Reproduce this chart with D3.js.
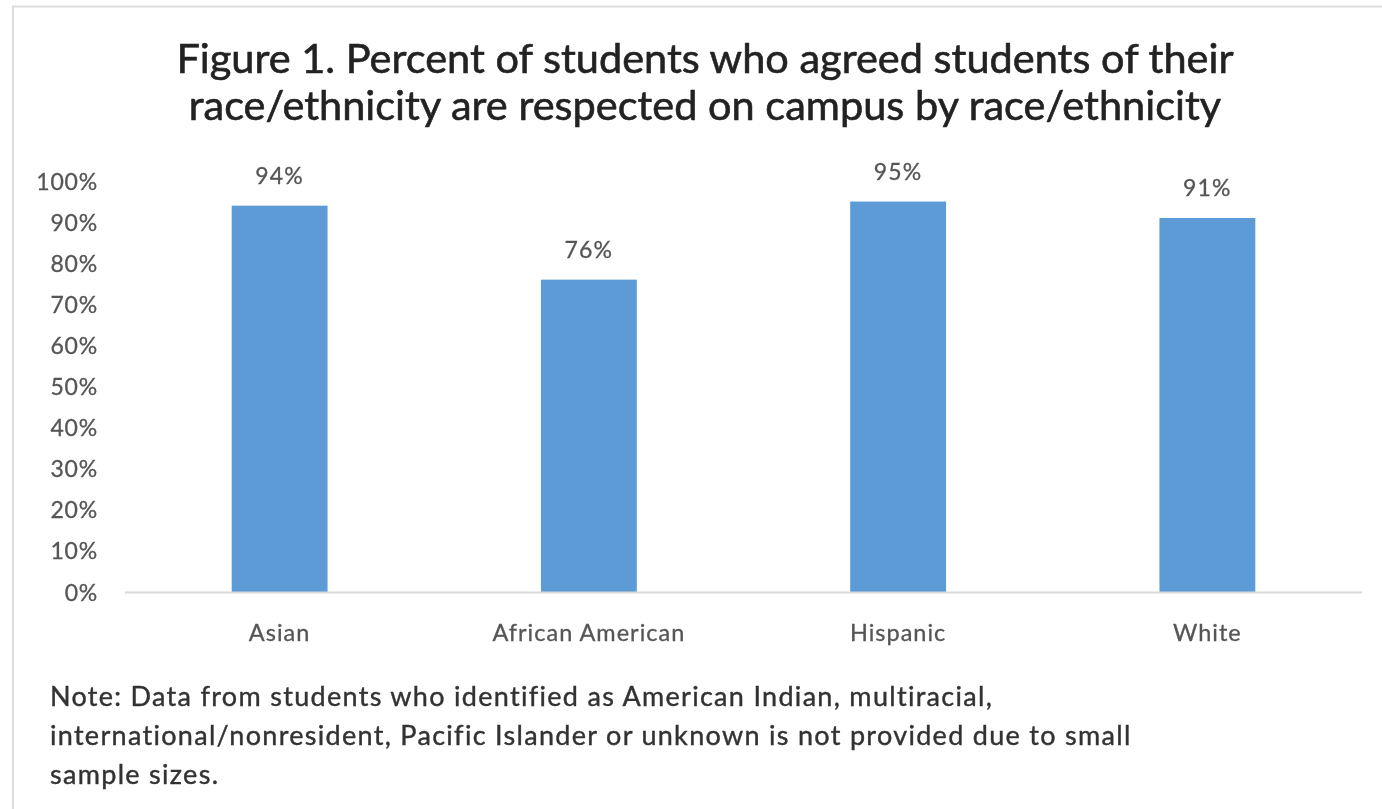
<!DOCTYPE html>
<html>
<head>
<meta charset="utf-8">
<script src="https://cdn.jsdelivr.net/npm/d3@7"></script>
<style>
  html, body { margin: 0; padding: 0; background: #fff; }
  svg { display: block; }
  text { font-family: Lato, "Open Sans", sans-serif; }
</style>
</head>
<body>
<svg id="chart" width="1382" height="809"></svg>
<script>
// Share of students who agreed students of their race/ethnicity are respected on campus
const categories = ["Asian", "African American", "Hispanic", "White"];
const agreedShare = [0.94, 0.76, 0.95, 0.91];
const tickValues = [0, 0.1, 0.2, 0.3, 0.4, 0.5, 0.6, 0.7, 0.8, 0.9, 1.0];
const titleLines = [
  "Figure 1. Percent of students who agreed students of their",
  "race/ethnicity are respected on campus by race/ethnicity"
];
const noteLines = [
  "Note: Data from students who identified as American Indian, multiracial,",
  "international/nonresident, Pacific Islander or unknown is not provided due to small",
  "sample sizes."
];

const svg = d3.select("#chart");
const W = 1382, H = 809;

// Soft rendering of the whole figure
const defs = svg.append("defs");
defs.append("filter").attr("id", "soft")
  .attr("x", "-5%").attr("y", "-5%").attr("width", "110%").attr("height", "110%")
  .append("feGaussianBlur").attr("stdDeviation", 0.75);

const root = svg.append("g").attr("filter", "url(#soft)");

root.append("rect").attr("width", W).attr("height", H).attr("fill", "#fff");

// Chart frame (top and left edges are visible)
root.append("path")
  .attr("d", `M13,${H + 5} L13,6.5 L${W + 5},6.5`)
  .attr("fill", "none")
  .attr("stroke", "#dcdcdc")
  .attr("stroke-width", 2);

const plot = { left: 125, right: 1362, top: 181, bottom: 592 };

const x = d3.scaleBand()
  .domain(categories)
  .range([plot.left, plot.right])
  .paddingInner(0.69)
  .paddingOuter(0.345);

const y = d3.scaleLinear()
  .domain([0, 1])
  .range([plot.bottom, plot.top]);

// Title
root.append("g").selectAll("text")
  .data(titleLines)
  .join("text")
  .attr("x", 705)
  .attr("y", (d, i) => 73 + i * 47)
  .attr("text-anchor", "middle")
  .attr("font-size", 41.5)
  .attr("fill", "#222")
  .attr("stroke", "#222")
  .attr("stroke-width", 0.6)
  .text(d => d);

// Y axis labels (no axis line)
const yAxis = d3.axisLeft(y)
  .tickValues(tickValues)
  .tickFormat(d3.format(".0%"))
  .tickSize(0)
  .tickPadding(0);

const yg = root.append("g")
  .attr("transform", `translate(98,0)`)
  .call(yAxis);
yg.select(".domain").remove();
yg.selectAll("text")
  .attr("font-family", "Lato, sans-serif")
  .attr("font-size", 23)
  .attr("letter-spacing", 0.8)
  .attr("fill", "#555")
  .attr("stroke", "#555")
  .attr("stroke-width", 0.3)
  .attr("dy", "0.35em");

// Bars
root.append("g").selectAll("rect")
  .data(categories.map((c, i) => ({ c, v: agreedShare[i] })))
  .join("rect")
  .attr("x", d => x(d.c))
  .attr("width", x.bandwidth())
  .attr("y", d => y(d.v))
  .attr("height", d => y(0) - y(d.v))
  .attr("fill", "#5b9bd5");

// Category axis
const xAxis = d3.axisBottom(x).tickSize(0).tickPadding(0);
const xg = root.append("g")
  .attr("transform", `translate(0,${plot.bottom})`)
  .call(xAxis);
xg.select(".domain")
  .attr("d", `M${plot.left},0.5H${plot.right}`)
  .attr("stroke", "#d9d9d9")
  .attr("stroke-width", 2);
xg.selectAll("text")
  .attr("font-family", "Lato, sans-serif")
  .attr("font-size", 23.5)
  .attr("letter-spacing", 1)
  .attr("fill", "#555")
  .attr("stroke", "#555")
  .attr("stroke-width", 0.3)
  .attr("y", 49)
  .attr("dy", 0);

// Value labels
root.append("g").selectAll("text")
  .data(categories.map((c, i) => ({ c, v: agreedShare[i] })))
  .join("text")
  .attr("x", d => x(d.c) + x.bandwidth() / 2)
  .attr("y", d => y(d.v) - 22)
  .attr("text-anchor", "middle")
  .attr("font-size", 23)
  .attr("letter-spacing", 1.2)
  .attr("fill", "#555")
  .attr("stroke", "#555")
  .attr("stroke-width", 0.3)
  .text(d => d3.format(".0%")(d.v));

// Note
root.append("g").selectAll("text")
  .data(noteLines)
  .join("text")
  .attr("x", 50)
  .attr("y", (d, i) => 706 + i * 39)
  .attr("font-size", 27)
  .attr("letter-spacing", 1.3)
  .attr("fill", "#333")
  .attr("stroke", "#333")
  .attr("stroke-width", 0.4)
  .text(d => d);
</script>
</body>
</html>
